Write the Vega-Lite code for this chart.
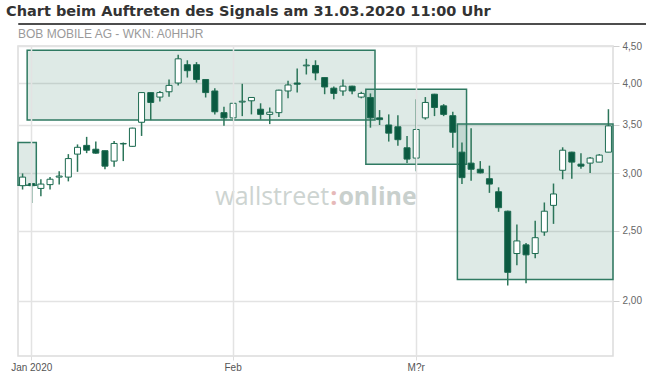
{
  "$schema": "https://vega.github.io/schema/vega-lite/v6.json",
  "padding": {"top": 3, "left": 0, "right": 0, "bottom": 0},
  "background": "white",
  "spacing": 0,
  "columns": 1,
  "align": "none",
  "config": {"font": "Liberation Sans", "view": {"stroke": null}},
  "datasets": {
    "candles": [
      {"date": "2019-12-30", "open": 2.885, "high": 3.00, "low": 2.85, "close": 2.965},
      {"date": "2020-01-02", "open": 2.905, "high": 2.91, "low": 2.73, "close": 2.885},
      {"date": "2020-01-03", "open": 2.86, "high": 2.945, "low": 2.79, "close": 2.90},
      {"date": "2020-01-06", "open": 2.895, "high": 2.965, "low": 2.85, "close": 2.945},
      {"date": "2020-01-07", "open": 2.965, "high": 3.02, "low": 2.895, "close": 2.975},
      {"date": "2020-01-08", "open": 2.965, "high": 3.19, "low": 2.925, "close": 3.145},
      {"date": "2020-01-09", "open": 3.19, "high": 3.29, "low": 3.015, "close": 3.26},
      {"date": "2020-01-10", "open": 3.28, "high": 3.37, "low": 3.20, "close": 3.23},
      {"date": "2020-01-13", "open": 3.24, "high": 3.32, "low": 3.195, "close": 3.20},
      {"date": "2020-01-14", "open": 3.225, "high": 3.225, "low": 3.04, "close": 3.07},
      {"date": "2020-01-15", "open": 3.12, "high": 3.325, "low": 3.065, "close": 3.30},
      {"date": "2020-01-16", "open": 3.295, "high": 3.31, "low": 3.12, "close": 3.30},
      {"date": "2020-01-17", "open": 3.27, "high": 3.47, "low": 3.265, "close": 3.465},
      {"date": "2020-01-20", "open": 3.53, "high": 3.885, "low": 3.38, "close": 3.88},
      {"date": "2020-01-21", "open": 3.88, "high": 3.885, "low": 3.555, "close": 3.76},
      {"date": "2020-01-22", "open": 3.825, "high": 3.90, "low": 3.77, "close": 3.88},
      {"date": "2020-01-23", "open": 3.89, "high": 4.045, "low": 3.83, "close": 3.97},
      {"date": "2020-01-24", "open": 4.00, "high": 4.375, "low": 3.97, "close": 4.32},
      {"date": "2020-01-27", "open": 4.24, "high": 4.30, "low": 4.07, "close": 4.16},
      {"date": "2020-01-28", "open": 4.24, "high": 4.275, "low": 4.005, "close": 4.045},
      {"date": "2020-01-29", "open": 4.045, "high": 4.05, "low": 3.82, "close": 3.88},
      {"date": "2020-01-30", "open": 3.90, "high": 3.935, "low": 3.62, "close": 3.65},
      {"date": "2020-01-31", "open": 3.64, "high": 3.71, "low": 3.49, "close": 3.58},
      {"date": "2020-02-03", "open": 3.58, "high": 3.755, "low": 3.545, "close": 3.75},
      {"date": "2020-02-04", "open": 3.765, "high": 3.99, "low": 3.60, "close": 3.775},
      {"date": "2020-02-05", "open": 3.78, "high": 3.825, "low": 3.62, "close": 3.82},
      {"date": "2020-02-06", "open": 3.68, "high": 3.75, "low": 3.56, "close": 3.62},
      {"date": "2020-02-07", "open": 3.62, "high": 3.70, "low": 3.51, "close": 3.645},
      {"date": "2020-02-10", "open": 3.64, "high": 3.915, "low": 3.59, "close": 3.91},
      {"date": "2020-02-11", "open": 3.90, "high": 4.03, "low": 3.81, "close": 3.975},
      {"date": "2020-02-12", "open": 4.00, "high": 4.19, "low": 3.88, "close": 3.985},
      {"date": "2020-02-13", "open": 4.225, "high": 4.32, "low": 4.11, "close": 4.235},
      {"date": "2020-02-14", "open": 4.23, "high": 4.30, "low": 4.035, "close": 4.13},
      {"date": "2020-02-17", "open": 4.07, "high": 4.075, "low": 3.86, "close": 3.95},
      {"date": "2020-02-18", "open": 3.935, "high": 3.955, "low": 3.80, "close": 3.87},
      {"date": "2020-02-19", "open": 3.90, "high": 4.045, "low": 3.84, "close": 3.96},
      {"date": "2020-02-20", "open": 3.96, "high": 3.965, "low": 3.86, "close": 3.90},
      {"date": "2020-02-21", "open": 3.825, "high": 3.89, "low": 3.81, "close": 3.87},
      {"date": "2020-02-24", "open": 3.82, "high": 3.87, "low": 3.47, "close": 3.58},
      {"date": "2020-02-25", "open": 3.58, "high": 3.67, "low": 3.50, "close": 3.56},
      {"date": "2020-02-26", "open": 3.50, "high": 3.62, "low": 3.32, "close": 3.41},
      {"date": "2020-02-27", "open": 3.48, "high": 3.61, "low": 3.275, "close": 3.34},
      {"date": "2020-02-28", "open": 3.255, "high": 3.38, "low": 3.10, "close": 3.14},
      {"date": "2020-03-02", "open": 3.15, "high": 3.80, "low": 3.02, "close": 3.45},
      {"date": "2020-03-03", "open": 3.58, "high": 3.825, "low": 3.56, "close": 3.76},
      {"date": "2020-03-04", "open": 3.86, "high": 3.865, "low": 3.60, "close": 3.70},
      {"date": "2020-03-05", "open": 3.72, "high": 3.74, "low": 3.60, "close": 3.62},
      {"date": "2020-03-06", "open": 3.605, "high": 3.65, "low": 3.255, "close": 3.42},
      {"date": "2020-03-09", "open": 3.21, "high": 3.31, "low": 2.90, "close": 2.96},
      {"date": "2020-03-10", "open": 3.10, "high": 3.465, "low": 2.93, "close": 3.04},
      {"date": "2020-03-11", "open": 3.04, "high": 3.12, "low": 3.00, "close": 3.005},
      {"date": "2020-03-12", "open": 2.95, "high": 3.075, "low": 2.82, "close": 2.90},
      {"date": "2020-03-13", "open": 2.83, "high": 2.87, "low": 2.655, "close": 2.69},
      {"date": "2020-03-16", "open": 2.66, "high": 2.665, "low": 2.10, "close": 2.19},
      {"date": "2020-03-17", "open": 2.325, "high": 2.55, "low": 2.24, "close": 2.42},
      {"date": "2020-03-18", "open": 2.39, "high": 2.405, "low": 2.115, "close": 2.315},
      {"date": "2020-03-19", "open": 2.325, "high": 2.58, "low": 2.29, "close": 2.445},
      {"date": "2020-03-20", "open": 2.49, "high": 2.735, "low": 2.46, "close": 2.66},
      {"date": "2020-03-23", "open": 2.71, "high": 2.905, "low": 2.555, "close": 2.81},
      {"date": "2020-03-24", "open": 3.03, "high": 3.26, "low": 2.945, "close": 3.23},
      {"date": "2020-03-25", "open": 3.21, "high": 3.215, "low": 2.95, "close": 3.11},
      {"date": "2020-03-26", "open": 3.09, "high": 3.20, "low": 3.045, "close": 3.07},
      {"date": "2020-03-27", "open": 3.10, "high": 3.16, "low": 3.005, "close": 3.15},
      {"date": "2020-03-30", "open": 3.11, "high": 3.19, "low": 3.11, "close": 3.18},
      {"date": "2020-03-31", "open": 3.21, "high": 3.68, "low": 3.21, "close": 3.49}
    ],
    "boxes": [
      {"start": "2019-12-30", "end": "2020-01-02", "top": 3.31, "bottom": 2.89},
      {"start": "2020-01-02", "end": "2020-02-24", "top": 4.44, "bottom": 3.556},
      {"start": "2020-02-24", "end": "2020-03-09", "top": 3.92, "bottom": 3.09},
      {"start": "2020-03-09", "end": "2020-03-31", "top": 3.51, "bottom": 2.14}
    ],
    "logo": [
      {"part": "wallstreet", "at": "2020-02-17", "y": 2.78},
      {"part": ":", "at": "2020-02-18", "y": 2.78},
      {"part": "online", "at": "2020-02-18", "y": 2.78}
    ]
  },
  "concat": [
    {
      "width": 646,
      "height": 1,
      "title": {"text": "Chart beim Auftreten des Signals am 31.03.2020 11:00 Uhr", "anchor": "start", "frame": "group", "dx": -12, "font": "DejaVu Sans", "fontSize": 14.5, "fontWeight": "bold", "color": "#333333", "offset": 1},
      "view": {"stroke": "#4d4d4d", "strokeWidth": 1},
      "data": {"values": [{"a": 1}]},
      "mark": {"type": "point", "opacity": 0},
      "encoding": {}
    },
    {
      "width": 595,
      "height": 310,
      "title": {"text": "BOB MOBILE AG - WKN: A0HHJR", "anchor": "start", "frame": "group", "font": "Liberation Sans", "fontSize": 12, "fontWeight": "normal", "color": "#9a9a9a", "offset": 0},
      "view": {"stroke": "#dcdcdc", "strokeWidth": 1.5},
      "resolve": {"axis": {"y": "independent"}},
      "layer": [
        {
          "data": {"name": "boxes"},
          "mark": {"type": "rect", "fill": "#2f7a62", "fillOpacity": 0.16, "stroke": "#2f7a62", "strokeWidth": 1.5},
          "encoding": {
            "x": {"field": "start", "type": "ordinal", "bandPosition": 0,
                  "scale": {"type": "band", "paddingInner": 0, "paddingOuter": 0},
                  "axis": {"values": ["2020-01-02", "2020-02-03", "2020-03-02"],
                           "labelExpr": "datum.value == '2020-01-02' ? 'Jan 2020' : datum.value == '2020-02-03' ? 'Feb' : 'M?r'",
                           "grid": true, "gridColor": "#e3e3e3", "gridWidth": 1.5, "domain": false,
                           "tickSize": 4, "tickColor": "#dddddd", "labelAngle": 0, "labelPadding": 2,
                           "labelFontSize": 10, "labelColor": "#555555", "title": null}},
            "x2": {"field": "end", "bandPosition": 1},
            "y": {"field": "top", "type": "quantitative",
                  "scale": {"type": "log", "domain": [1.678, 4.5], "nice": false},
                  "axis": {"orient": "left", "labels": false, "ticks": false, "domain": false, "grid": false, "title": null, "minExtent": 17, "maxExtent": 17}},
            "y2": {"field": "bottom"}
          }
        },
        {
          "data": {"name": "logo"},
          "transform": [{"filter": "datum.part == 'wallstreet'"}],
          "mark": {"type": "text", "font": "Open Sans", "fontSize": 25, "color": "#cdd4d1", "align": "right", "baseline": "middle"},
          "encoding": {
            "x": {"field": "at", "type": "ordinal", "bandPosition": 1,
                  "axis": {"values": ["2020-01-02", "2020-02-03", "2020-03-02"],
                           "labelExpr": "datum.value == '2020-01-02' ? 'Jan 2020' : datum.value == '2020-02-03' ? 'Feb' : 'M?r'",
                           "grid": true, "gridColor": "#e3e3e3", "gridWidth": 1.5, "domain": false,
                           "tickSize": 4, "tickColor": "#dddddd", "labelAngle": 0, "labelPadding": 2,
                           "labelFontSize": 10, "labelColor": "#555555", "title": null}},
            "y": {"field": "y", "type": "quantitative", "axis": null},
            "text": {"field": "part"}
          }
        },
        {
          "data": {"name": "logo"},
          "transform": [{"filter": "datum.part == ':'"}],
          "mark": {"type": "text", "font": "Open Sans", "fontSize": 25, "fontWeight": "bold", "color": "#e6b9b9", "align": "center", "baseline": "middle"},
          "encoding": {
            "x": {"field": "at", "type": "ordinal",
                  "axis": {"values": ["2020-01-02", "2020-02-03", "2020-03-02"],
                           "labelExpr": "datum.value == '2020-01-02' ? 'Jan 2020' : datum.value == '2020-02-03' ? 'Feb' : 'M?r'",
                           "grid": true, "gridColor": "#e3e3e3", "gridWidth": 1.5, "domain": false,
                           "tickSize": 4, "tickColor": "#dddddd", "labelAngle": 0, "labelPadding": 2,
                           "labelFontSize": 10, "labelColor": "#555555", "title": null}},
            "y": {"field": "y", "type": "quantitative", "axis": null},
            "text": {"field": "part"}
          }
        },
        {
          "data": {"name": "logo"},
          "transform": [{"filter": "datum.part == 'online'"}],
          "mark": {"type": "text", "font": "Open Sans", "fontSize": 25, "fontWeight": "bold", "color": "#c9d0cd", "align": "left", "baseline": "middle"},
          "encoding": {
            "x": {"field": "at", "type": "ordinal", "bandPosition": 1,
                  "axis": {"values": ["2020-01-02", "2020-02-03", "2020-03-02"],
                           "labelExpr": "datum.value == '2020-01-02' ? 'Jan 2020' : datum.value == '2020-02-03' ? 'Feb' : 'M?r'",
                           "grid": true, "gridColor": "#e3e3e3", "gridWidth": 1.5, "domain": false,
                           "tickSize": 4, "tickColor": "#dddddd", "labelAngle": 0, "labelPadding": 2,
                           "labelFontSize": 10, "labelColor": "#555555", "title": null}},
            "y": {"field": "y", "type": "quantitative", "axis": null},
            "text": {"field": "part"}
          }
        },
        {
          "data": {"name": "candles"},
          "mark": {"type": "rule", "color": "#2b7559", "strokeWidth": 1.5},
          "encoding": {
            "x": {"field": "date", "type": "ordinal",
                  "axis": {"values": ["2020-01-02", "2020-02-03", "2020-03-02"],
                           "labelExpr": "datum.value == '2020-01-02' ? 'Jan 2020' : datum.value == '2020-02-03' ? 'Feb' : 'M?r'",
                           "grid": true, "gridColor": "#e3e3e3", "gridWidth": 1.5, "domain": false,
                           "tickSize": 4, "tickColor": "#dddddd", "labelAngle": 0, "labelPadding": 2,
                           "labelFontSize": 10, "labelColor": "#555555", "title": null}},
            "y": {"field": "low", "type": "quantitative",
                  "axis": {"orient": "right", "values": [2, 2.5, 3, 3.5, 4, 4.5],
                           "labelExpr": "replace(format(datum.value, '.2f'), '.', ',')",
                           "grid": true, "gridColor": "#e3e3e3", "gridWidth": 1.5, "domain": false,
                           "tickSize": 6, "tickColor": "#cfcfcf", "labelPadding": 3,
                           "labelFontSize": 10, "labelColor": "#666666", "title": null}},
            "y2": {"field": "high"}
          }
        },
        {
          "data": {"name": "candles"},
          "mark": {"type": "bar", "width": 6, "stroke": "#1c6a50", "strokeWidth": 1},
          "encoding": {
            "x": {"field": "date", "type": "ordinal",
                  "axis": {"values": ["2020-01-02", "2020-02-03", "2020-03-02"],
                           "labelExpr": "datum.value == '2020-01-02' ? 'Jan 2020' : datum.value == '2020-02-03' ? 'Feb' : 'M?r'",
                           "grid": true, "gridColor": "#e3e3e3", "gridWidth": 1.5, "domain": false,
                           "tickSize": 4, "tickColor": "#dddddd", "labelAngle": 0, "labelPadding": 2,
                           "labelFontSize": 10, "labelColor": "#555555", "title": null}},
            "y": {"field": "open", "type": "quantitative", "axis": null},
            "y2": {"field": "close"},
            "fill": {"condition": {"test": "datum.close >= datum.open", "value": "#ffffff"}, "value": "#0b5a41"}
          }
        }
      ]
    }
  ]
}
